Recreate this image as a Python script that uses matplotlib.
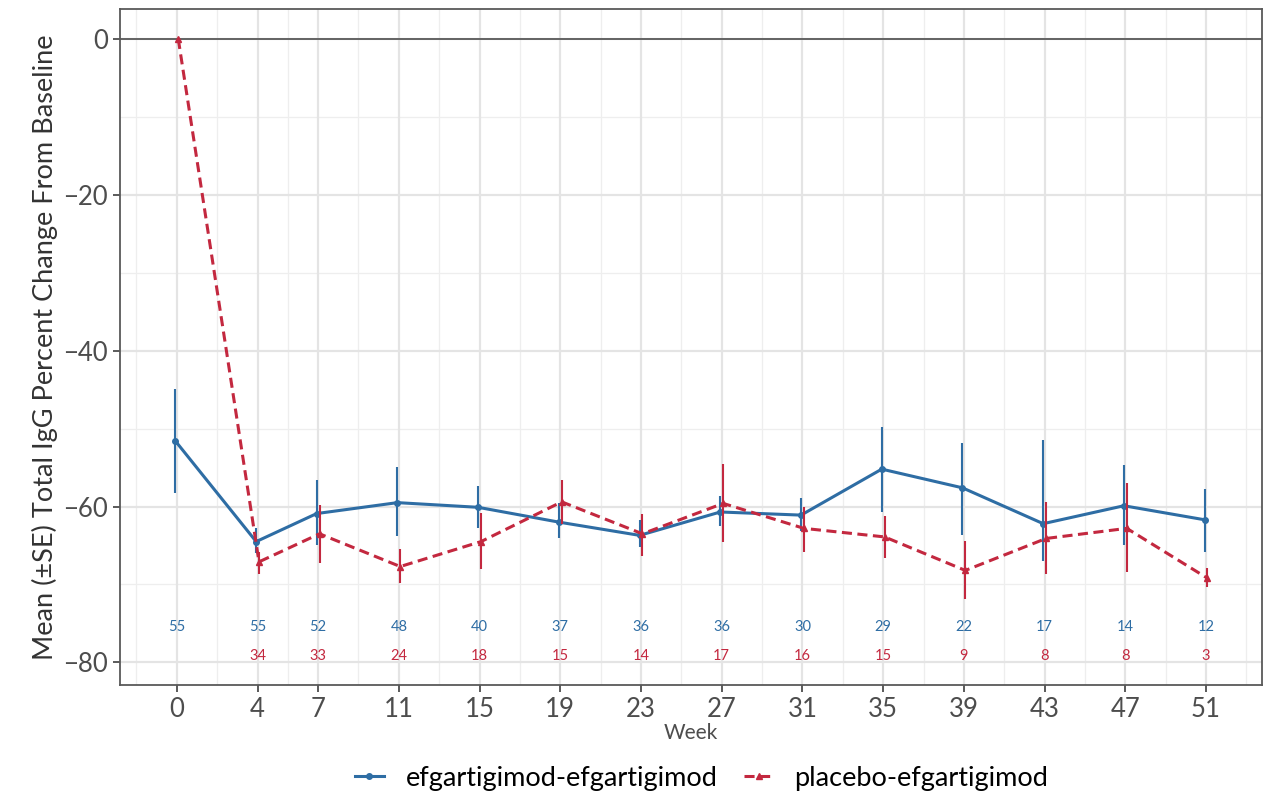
import numpy as np
import matplotlib
matplotlib.use("Agg")
import matplotlib.pyplot as plt
from matplotlib.lines import Line2D

plt.rcParams['font.family'] = ['Lato', 'DejaVu Sans']

# data
weeks = [0, 4, 7, 11, 15, 19, 23, 27, 31, 35, 39, 43, 47, 51]

efg_mean = [-51.6, -64.5, -60.9, -59.5, -60.1, -62.0, -63.7, -60.7, -61.1, -55.2, -57.6, -62.2, -59.9, -61.7]
efg_lo = [-58.3, -66.0, -65.0, -63.8, -62.8, -64.1, -65.2, -62.5, -63.2, -60.7, -63.7, -67.0, -65.0, -65.8]
efg_hi = [-44.9, -62.8, -56.6, -54.9, -57.4, -59.6, -61.7, -58.7, -58.9, -49.8, -51.8, -51.4, -54.7, -57.7]
efg_n = [55, 55, 52, 48, 40, 37, 36, 36, 30, 29, 22, 17, 14, 12]

pbo_weeks = [0, 4, 7, 11, 15, 19, 23, 27, 31, 35, 39, 43, 47, 51]
pbo_mean = [0.0, -67.1, -63.5, -67.7, -64.5, -59.4, -63.5, -59.6, -62.8, -63.9, -68.2, -64.1, -62.8, -69.2]
pbo_lo = [0.0, -68.6, -67.2, -69.8, -68.0, -62.3, -66.4, -64.6, -65.8, -66.6, -71.9, -68.7, -68.4, -70.3]
pbo_hi = [0.0, -65.8, -59.8, -65.4, -60.8, -56.6, -60.9, -54.6, -60.0, -61.2, -64.4, -59.4, -57.0, -67.9]
pbo_n_weeks = [4, 7, 11, 15, 19, 23, 27, 31, 35, 39, 43, 47, 51]
pbo_n = [34, 33, 24, 18, 15, 14, 17, 16, 15, 9, 8, 8, 3]

blue = "#2E6DA4"
red = "#C3283F"

fig = plt.figure(figsize=(12.76, 7.94), dpi=100)
ax = fig.add_axes([0.094, 0.1373, 0.895, 0.8514])

# grid like ggplot theme_bw
minor_x = [-2, 2, 5.5, 9, 13, 17, 21, 25, 29, 33, 37, 41, 45, 49, 53]
minor_y = [-10, -30, -50, -70]
for v in minor_x:
    ax.axvline(v, color="#EEEEEE", lw=0.9, zorder=0)
for v in minor_y:
    ax.axhline(v, color="#EEEEEE", lw=0.9, zorder=0)
for v in weeks:
    ax.axvline(v, color="#E4E4E4", lw=1.6, zorder=0)
for v in [0, -20, -40, -60, -80]:
    ax.axhline(v, color="#E4E4E4", lw=1.6, zorder=0)
ax.axhline(0, color="#595959", lw=1.3, zorder=1)

d = 0.07
bx = np.array(weeks) - d
rx = np.array(pbo_weeks) + d

e_lo = np.array(efg_mean) - np.array(efg_lo)
e_hi = np.array(efg_hi) - np.array(efg_mean)
p_lo = np.array(pbo_mean) - np.array(pbo_lo)
p_hi = np.array(pbo_hi) - np.array(pbo_mean)

ax.errorbar(bx, efg_mean, yerr=[e_lo, e_hi], fmt="none", ecolor=blue, elinewidth=1.5, zorder=3)
ax.plot(bx, efg_mean, color=blue, lw=2.2, marker="o", ms=4, zorder=4)
ax.errorbar(rx, pbo_mean, yerr=[p_lo, p_hi], fmt="none", ecolor=red, elinewidth=1.5, zorder=5)
ax.plot(rx, pbo_mean, color=red, lw=2.2, ls=(0, (3.3, 1.8)), marker="^", ms=4.5, zorder=6)

for w, n in zip(weeks, efg_n):
    ax.text(w, -75.5, str(n), color=blue, fontsize=10.5, ha="center", va="center")
for w, n in zip(pbo_n_weeks, pbo_n):
    ax.text(w, -79.2, str(n), color=red, fontsize=10.5, ha="center", va="center")

ax.set_xlim(-2.82, 53.77)
ax.set_ylim(-82.9, 3.85)
ax.set_xticks(weeks)
ax.set_yticks([0, -20, -40, -60, -80])
ax.set_yticklabels(["0", "\u221220", "\u221240", "\u221260", "\u221280"])
ax.tick_params(labelsize=18.5, colors="#4D4D4D", labelcolor="#4D4D4D", length=5, width=1.3)
for s in ax.spines.values():
    s.set_color("#595959")
    s.set_linewidth(1.3)

ax.set_xlabel("Week", fontsize=15, color="#4D4D4D", labelpad=1)
ax.set_ylabel("Mean (\u00b1SE) Total IgG Percent Change From Baseline", fontsize=19.5, color="#333333", labelpad=4)

handles = [
    Line2D([], [], color=blue, lw=2.2, marker="o", ms=4),
    Line2D([], [], color=red, lw=2.2, ls=(0, (3.3, 1.8)), marker="^", ms=4.5),
]
fig.legend(handles, ["efgartigimod-efgartigimod", "placebo-efgartigimod"], loc="center",
           bbox_to_anchor=(0.55, 0.02), ncol=2, frameon=False, fontsize=19.5,
           handlelength=1.05, columnspacing=1.0, handletextpad=0.8)

fig.savefig("out.png", dpi=100)
